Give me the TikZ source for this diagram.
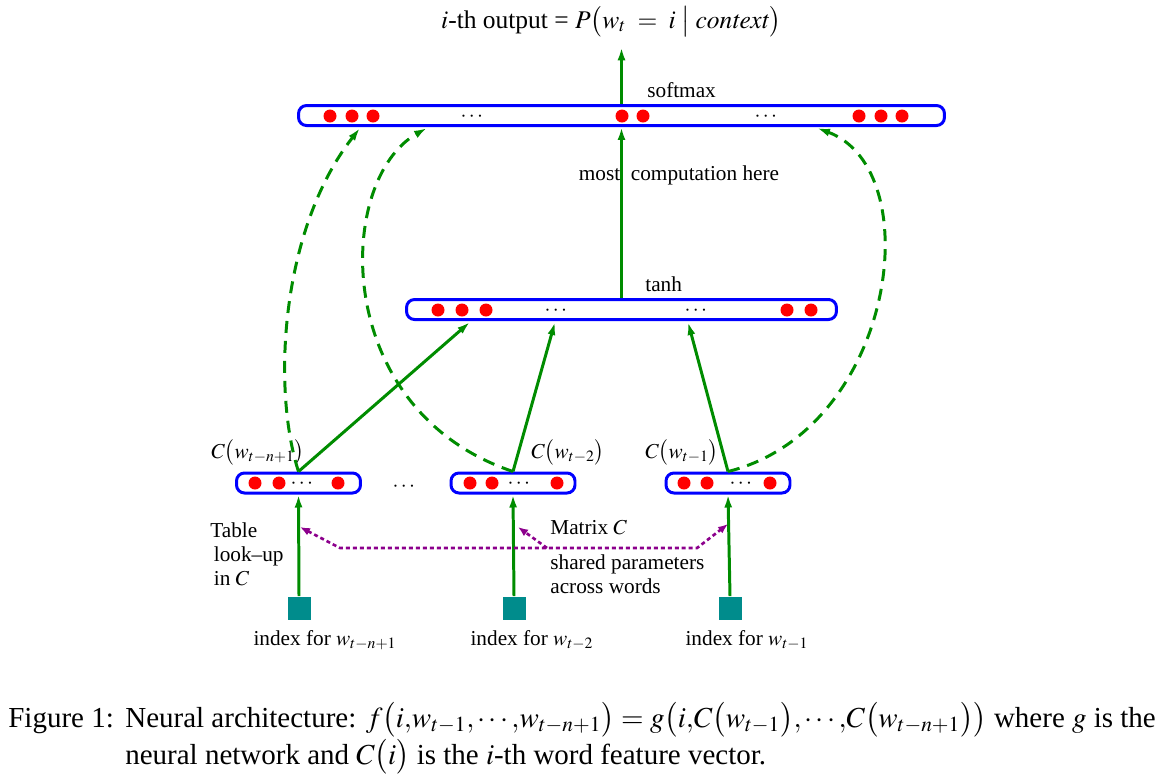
\documentclass[tikz,border=0pt]{standalone}
\usepackage{amsmath}
\usepackage{mathptmx}
\usepackage[no-math]{fontspec}
\setmainfont{Liberation Serif}
\usetikzlibrary{arrows.meta}
\definecolor{netgreen}{RGB}{0,140,0}
\definecolor{netpurple}{RGB}{140,0,140}
\definecolor{netteal}{RGB}{0,140,140}
\tikzset{
    line/.style={
        line width=1.7pt,
        netgreen
    },
    arrow/.style={
        line,
        -{Latex[length=2.6mm, width=1.6mm]}
    },
    reuse/.style={
        arrow,
        dash pattern=on 2.4mm off 1.6mm
    },
    shared/.style={
        line width=1.5pt,
        netpurple,
        dash pattern=on 0.8mm off 0.6mm,
        -{Latex[length=2mm, width=1.6mm]}
    },
    layer/.style={
        draw=blue,
        line width=1.7pt,
        rounded corners=1.6mm,
        minimum height=0.4cm,
        inner sep=0pt
    },
    index/.style={
        fill=netteal,
        minimum size=0.46cm,
        inner sep=0pt
    },
    neuron/.style={
        fill=red
    }
}
\newcommand{\capfont}{\fontsize{16.5}{21}\selectfont}

\begin{document}
\begin{tikzpicture}[x=0.02cm, y=-0.02cm, inner sep=0pt, font=\fontsize{12.1}{13.6}\selectfont]
    \useasboundingbox (0, 0) rectangle (1160, 779);
    % Output:
    \node [anchor=base, font=\fontsize{14.5}{16}\selectfont] (out) at (611, 28) {$i$-th output = $P\bigl(w_t\;=\;i\bigm|\mathit{context}\bigr)$};
    % Softmax layer:
    \begin{scope}
        \node [layer, minimum width=12.92cm] (softmax) at (621.5, 115.5) {};
        \foreach \x in {330, 352, 373, 622, 643, 859, 881, 902}
            \fill [neuron] (\x, 116) circle (0.13cm);
        \node (sdots1) at (473, 117) {$\cdots$};
        \node (sdots2) at (767, 117) {$\cdots$};
        \node [anchor=base west] (softlabel) at (647, 97) {softmax};
        \draw [arrow, shorten >=2mm] (softmax.north) -- (softmax.north |- out.south);
    \end{scope}
    % Hidden layer:
    \begin{scope}
        \node [layer, minimum width=8.6cm] (tanh) at (621.5, 309.5) {};
        \foreach \x in {438, 462, 486, 787, 811}
            \fill [neuron] (\x, 310) circle (0.13cm);
        \node (tdots1) at (557, 311) {$\cdots$};
        \node (tdots2) at (697, 311) {$\cdots$};
        \node [anchor=base west] (tanhlabel) at (645, 291) {tanh};
        \draw [arrow] (tanh.north) -- (softmax.south);
        \node [anchor=base] (most) at (679, 180) {most\hspace{0.5em}computation here};
    \end{scope}
    % Word features:
    \begin{scope}
        \node [layer, minimum width=2.48cm] (emb1) at (298.5, 483) {};
        \node [layer, minimum width=2.48cm] (emb2) at (513, 483) {};
        \node [layer, minimum width=2.48cm] (emb3) at (728, 483) {};
        \foreach \x in {255, 279, 338, 470, 492, 557, 684, 707, 770}
            \fill [neuron] (\x, 483) circle (0.13cm);
        \node (edots1) at (303, 484) {$\cdots$};
        \node (edots2) at (520, 484) {$\cdots$};
        \node (edots3) at (742, 484) {$\cdots$};
        \node (wdots) at (405, 487) {$\cdots$};
        \node [anchor=base] (c1) at (258, 458) {$C\bigl(w_{t-n+1}\bigr)$};
        \node [anchor=base] (c2) at (568, 458) {$C\bigl(w_{t-2}\bigr)$};
        \node [anchor=base] (c3) at (682, 458) {$C\bigl(w_{t-1}\bigr)$};
        % landing points on the layers
        \coordinate (h1) at (470, 322);
        \coordinate (h2) at (555, 322);
        \coordinate (h3) at (688, 322);
        \coordinate (s1) at (360, 128);
        \coordinate (s2) at (427, 128);
        \coordinate (s3) at (817, 128);
        \draw [arrow] (emb1.north) -- (h1);
        \draw [arrow] (emb2.north) -- (h2);
        \draw [arrow] (emb3.north) -- (h3);
        \draw [reuse] (emb1.north) .. controls (272, 390) and (280, 230) .. (s1);
        \draw [reuse] (emb2.north) .. controls (330, 410) and (335, 180) .. (s2);
        \draw [reuse] (emb3.north) .. controls (895, 430) and (930, 170) .. (s3);
    \end{scope}
    % Indices:
    \begin{scope}
        \node [index] (idx1) at (299, 608) {};
        \node [index] (idx2) at (514, 608) {};
        \node [index] (idx3) at (730, 608) {};
        \node [anchor=base] (ilabel1) at (325, 645) {index for $w_{t-n+1}$};
        \node [anchor=base] (ilabel2) at (532, 645) {index for\ $w_{t-2}$};
        \node [anchor=base] (ilabel3) at (747, 645) {index for\ $w_{t-1}$};
        \draw [arrow] (idx1.north) -- (emb1.south);
        \draw [arrow] (idx2.north) -- (emb2.south);
        \draw [arrow] (idx3.north) -- (emb3.south);
    \end{scope}
    % Shared matrix C:
    \begin{scope}
        \coordinate (p1) at (340, 548);
        \coordinate (p2) at (547, 548);
        \coordinate (p3) at (697, 548);
        \coordinate (l1) at (300, 527);
        \coordinate (l2) at (518, 527);
        \coordinate (l3) at (728, 524);
        \draw [shared, {Latex[length=2mm, width=1.6mm]}-{Latex[length=2mm, width=1.6mm]}] (l1) -- (p1) -- (p3) -- (l3);
        \draw [shared] (p2) -- (l2);
        % base of a multi-line node is its last line
        \node [anchor=base west, align=left] (table) at (210, 585) {Table\\\hspace{2pt}look--up\\\hspace{2pt}in $C$};
        \node [anchor=base west] (matrix) at (550, 534) {Matrix\ $C$};
        \node [anchor=base west, align=left] (sharedlabel) at (550, 593) {shared parameters\\across words};
    \end{scope}
    % Caption:
    \node [anchor=base west, font=\capfont] (figlabel) at (8, 727) {Figure 1:};
    \node [anchor=base west, align=left, font=\capfont] (caption) at (125, 764) {Neural architecture: $f\bigl(i{,}w_{t-1}{,}\cdots{,}w_{t-n+1}\bigr)=g\bigl(i{,}C\bigl(w_{t-1}\bigr){,}\cdots{,}C\bigl(w_{t-n+1}\bigr)\bigr)$ where $g$ is the\\neural network and $C\bigl(i\bigr)$ is the $i$-th word feature vector.};
\end{tikzpicture}
\end{document}
